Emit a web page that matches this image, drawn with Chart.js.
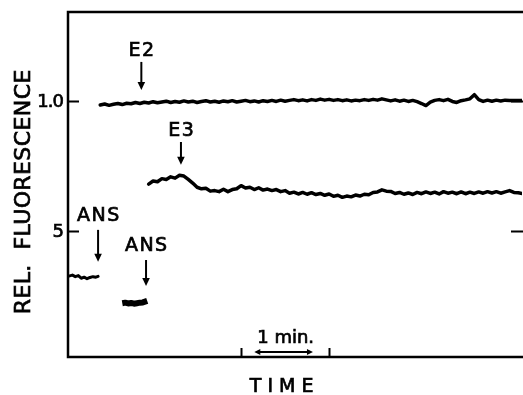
<!DOCTYPE html>
<html>
<head>
<meta charset="utf-8">
<script src="https://cdn.jsdelivr.net/npm/chart.js@4/dist/chart.umd.min.js"></script>
<style>
  html, body { margin: 0; padding: 0; background: #fff; }
  #wrap { width: 523px; height: 395px; }
</style>
</head>
<body>
<div id="wrap"><canvas id="traceChart" width="523" height="395"></canvas></div>
<script>
// Fluorescence traces, time in seconds from the first ANS addition
const ansTime1 = [0.5, 3, 5, 7, 9, 11, 13, 15, 17, 19, 20.5];
const ansValues1 = [0.326, 0.330, 0.324, 0.328, 0.318, 0.322, 0.316, 0.321, 0.324, 0.322, 0.325];

const ansTime2 = [37, 39, 41, 43, 45, 47, 49, 51, 53, 54];
const ansValues2 = [0.222, 0.224, 0.221, 0.223, 0.220, 0.222, 0.224, 0.225, 0.229, 0.231];

const e2Time = [
  22, 25, 28, 31, 34, 37, 40, 43, 46, 49,
  52, 55, 58, 61, 64, 67, 70, 73, 76, 79,
  82, 85, 88, 91, 94, 97, 100, 103, 106, 109,
  112, 115, 118, 121, 124, 127, 130, 133, 136, 139,
  142, 145, 148, 151, 154, 157, 160, 163, 166, 169,
  172, 175, 178, 181, 184, 187, 190, 193, 196, 199,
  202, 205, 208, 211, 214, 217, 220, 223, 226, 229,
  232, 235, 238, 241, 244, 247, 250, 253, 256, 259,
  262, 265, 268, 271, 274, 277, 280, 283, 286, 289,
  292, 295, 298, 301, 304, 307, 310
];
const e2Values = [
  0.984, 0.988, 0.983, 0.987, 0.990, 0.986, 0.991, 0.989, 0.994, 0.990,
  0.995, 0.992, 0.997, 0.993, 0.996, 0.999, 0.994, 0.998, 0.995, 1.000,
  0.996, 0.999, 0.994, 0.998, 1.001, 0.996, 0.999, 0.995, 1.000, 0.997,
  1.001, 0.996, 0.999, 1.002, 0.997, 1.000, 0.996, 1.001, 0.998, 1.002,
  0.998, 1.003, 0.999, 1.002, 1.005, 1.001, 1.004, 1.000, 1.005, 1.002,
  1.007, 1.003, 1.006, 1.002, 1.005, 1.001, 1.004, 1.000, 1.003, 1.001,
  1.005, 1.002, 1.006, 1.003, 1.008, 1.004, 1.000, 1.004, 0.999, 1.003,
  0.998, 1.002, 0.997, 0.990, 0.982, 0.995, 1.002, 1.005, 1.001, 1.006,
  0.998, 0.994, 1.001, 1.004, 1.008, 1.024, 1.005, 0.998, 1.003, 0.999,
  1.003, 1.000, 1.003, 1.002, 1.002, 1.002, 1.002
];

const e3Time = [
  55, 58, 61, 64, 67, 70, 73, 76, 79, 82,
  85, 88, 91, 94, 97, 100, 103, 106, 109, 112,
  115, 118, 121, 124, 127, 130, 133, 136, 139, 142,
  145, 148, 151, 154, 157, 160, 163, 166, 169, 172,
  175, 178, 181, 184, 187, 190, 193, 196, 199, 202,
  205, 208, 211, 214, 217, 220, 223, 226, 229, 232,
  235, 238, 241, 244, 247, 250, 253, 256, 259, 262,
  265, 268, 271, 274, 277, 280, 283, 286, 289, 292,
  295, 298, 301, 304, 307, 310
];
const e3Values = [
  0.680, 0.692, 0.689, 0.701, 0.698, 0.708, 0.703, 0.714, 0.711, 0.698,
  0.684, 0.668, 0.662, 0.664, 0.653, 0.655, 0.651, 0.660, 0.651, 0.659,
  0.662, 0.674, 0.665, 0.668, 0.659, 0.666, 0.657, 0.661, 0.655, 0.659,
  0.651, 0.655, 0.645, 0.649, 0.642, 0.648, 0.641, 0.647, 0.640, 0.644,
  0.637, 0.642, 0.633, 0.637, 0.629, 0.634, 0.631, 0.638, 0.634, 0.641,
  0.639, 0.648, 0.650, 0.658, 0.653, 0.652, 0.644, 0.648, 0.641, 0.646,
  0.640, 0.648, 0.643, 0.650, 0.644, 0.649, 0.642, 0.651, 0.645, 0.649,
  0.643, 0.650, 0.643, 0.649, 0.644, 0.650, 0.645, 0.651, 0.646, 0.651,
  0.645, 0.650, 0.655, 0.648, 0.647, 0.643
];

// axis ticks
const yTicks = [1.0, 0.5];
const yTickLabels = ['1.0', '5'];
const timeTicks = [118, 178];        // one minute apart
const timeBar = [127, 167];          // span of the "1 min." arrow
const timeBarLabel = '1 min.';
const yTitle = 'REL.  FLUORESCENCE';
const xTitle = 'TIME';

// additions marked with arrows: x = time, tip/tail/text = heights in fluorescence units
const markers = [
  { label: 'ANS', x: 20.5, tip: 0.381, tail: 0.504, text: 0.558 },
  { label: 'ANS', x: 53.2, tip: 0.288, tail: 0.388, text: 0.442 },
  { label: 'E2',  x: 50,   tip: 1.042, tail: 1.150, text: 1.192 },
  { label: 'E3',  x: 77,   tip: 0.754, tail: 0.842, text: 0.885 }
];

const pairs = (xs, ys) => xs.map((t, i) => ({ x: t, y: ys[i] }));

const FONT = '"DejaVu Sans", "Liberation Sans", sans-serif';

// centred text with letter spacing, thickened a little with a thin stroke
function spacedText(ctx, str, x, y, spacing) {
  ctx.letterSpacing = spacing + 'px';
  const w = ctx.measureText(str).width - spacing;
  ctx.textAlign = 'left';
  ctx.lineWidth = 0.7;
  ctx.fillText(str, x - w / 2, y);
  ctx.strokeText(str, x - w / 2, y);
  ctx.letterSpacing = '0px';
}

function downArrow(ctx, px, yTail, yTip) {
  ctx.lineWidth = 2;
  ctx.beginPath();
  ctx.moveTo(px, yTail);
  ctx.lineTo(px, yTip - 6);
  ctx.stroke();
  ctx.beginPath();
  ctx.moveTo(px - 3.8, yTip - 8);
  ctx.lineTo(px + 3.8, yTip - 8);
  ctx.lineTo(px, yTip);
  ctx.closePath();
  ctx.fill();
}

// frame, inward ticks, labels and addition arrows
const figureMarks = {
  id: 'figureMarks',
  afterDatasetsDraw(chart) {
    const { ctx, chartArea: a, scales: { x, y } } = chart;
    ctx.save();
    ctx.strokeStyle = '#000';
    ctx.fillStyle = '#000';
    ctx.lineCap = 'butt';

    // frame
    ctx.lineWidth = 2.5;
    ctx.beginPath();
    ctx.moveTo(a.right + 1, a.top);
    ctx.lineTo(a.left, a.top);
    ctx.lineTo(a.left, a.bottom);
    ctx.lineTo(a.right + 1, a.bottom);
    ctx.stroke();

    // y ticks on both sides, pointing inward
    yTicks.forEach((v, i) => {
      const py = Math.round(y.getPixelForValue(v)) + 0.5;
      ctx.lineWidth = 2;
      ctx.beginPath();
      ctx.moveTo(a.left, py);
      ctx.lineTo(a.left + 11, py);
      ctx.moveTo(a.right + 1, py);
      ctx.lineTo(a.right - 11, py);
      ctx.stroke();
      ctx.font = '18px ' + FONT;
      ctx.textBaseline = 'middle';
      ctx.letterSpacing = '-1px';
      ctx.textAlign = 'right';
      ctx.lineWidth = 0.7;
      ctx.fillText(yTickLabels[i], a.left - 5, py + 1);
      ctx.strokeText(yTickLabels[i], a.left - 5, py + 1);
      ctx.letterSpacing = '0px';
    });

    // time ticks and one-minute bar
    ctx.lineWidth = 2;
    timeTicks.forEach(t => {
      const px = Math.round(x.getPixelForValue(t)) + 0.5;
      ctx.beginPath();
      ctx.moveTo(px, a.bottom);
      ctx.lineTo(px, a.bottom - 9);
      ctx.stroke();
    });
    const b0 = x.getPixelForValue(timeBar[0]);
    const b1 = x.getPixelForValue(timeBar[1]);
    const by = a.bottom - 5;
    ctx.lineWidth = 1.8;
    ctx.beginPath();
    ctx.moveTo(b0 + 3, by);
    ctx.lineTo(b1 - 3, by);
    ctx.stroke();
    ctx.beginPath();
    ctx.moveTo(b0, by); ctx.lineTo(b0 + 6, by - 3); ctx.lineTo(b0 + 6, by + 3); ctx.closePath();
    ctx.moveTo(b1, by); ctx.lineTo(b1 - 6, by - 3); ctx.lineTo(b1 - 6, by + 3); ctx.closePath();
    ctx.fill();
    ctx.font = '18px ' + FONT;
    ctx.textBaseline = 'alphabetic';
    spacedText(ctx, timeBarLabel, (b0 + b1) / 2 + 2, a.bottom - 14, 0);

    // axis titles
    ctx.font = '19px ' + FONT;
    spacedText(ctx, xTitle, (b0 + b1) / 2 - 2, a.bottom + 35, 6);
    ctx.save();
    ctx.translate(30, 192);
    ctx.rotate(-Math.PI / 2);
    ctx.font = '22px ' + FONT;
    spacedText(ctx, yTitle, 0, 0, 0.4);
    ctx.restore();

    // addition arrows
    markers.forEach(m => {
      const px = x.getPixelForValue(m.x);
      downArrow(ctx, px, y.getPixelForValue(m.tail), y.getPixelForValue(m.tip));
      ctx.font = '19px ' + FONT;
      ctx.textBaseline = 'middle';
      spacedText(ctx, m.label, px, y.getPixelForValue(m.text), 1.5);
    });

    ctx.restore();
  }
};

const traceStyle = {
  borderColor: '#000',
  borderWidth: 3.5,
  pointRadius: 0,
  tension: 0,
  borderJoinStyle: 'round',
  borderCapStyle: 'round',
  fill: false
};

new Chart(document.getElementById('traceChart'), {
  type: 'line',
  data: {
    datasets: [
      { ...traceStyle, label: 'ANS', data: pairs(ansTime1, ansValues1), borderWidth: 3 },
      { ...traceStyle, label: 'ANS', data: pairs(ansTime2, ansValues2), borderWidth: 6, borderCapStyle: 'butt' },
      { ...traceStyle, label: 'E2', data: pairs(e2Time, e2Values) },
      { ...traceStyle, label: 'E3', data: pairs(e3Time, e3Values) }
    ]
  },
  options: {
    responsive: false,
    animation: false,
    layout: { padding: { left: 68, top: 12, right: 1, bottom: 38 } },
    plugins: { legend: { display: false }, tooltip: { enabled: false } },
    scales: {
      x: { type: 'linear', min: 0, max: 309.5, display: false },
      y: { type: 'linear', min: 0.015, max: 1.342, display: false }
    }
  },
  plugins: [figureMarks]
});
</script>
</body>
</html>
